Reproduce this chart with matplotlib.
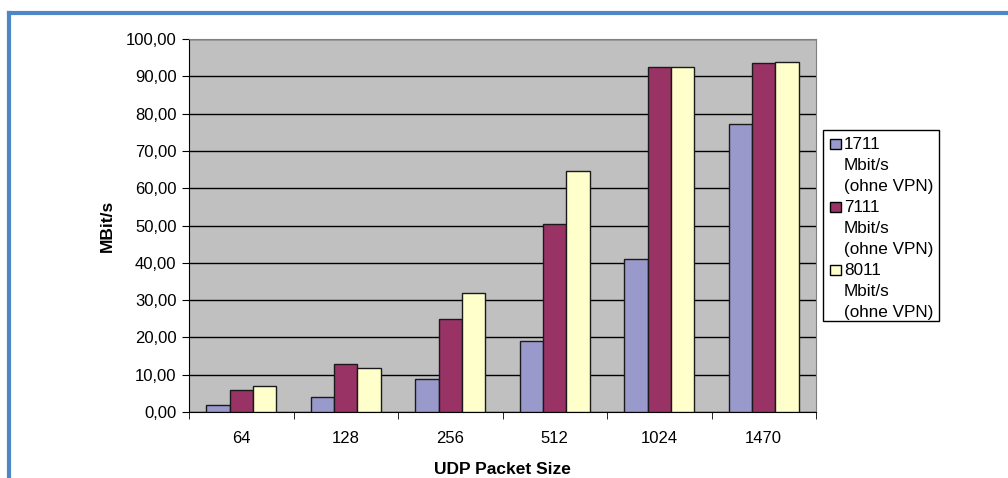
import numpy as np
import matplotlib
matplotlib.use('Agg')
import matplotlib.pyplot as plt
from matplotlib.patches import Rectangle
from matplotlib.lines import Line2D

plt.rcParams['font.family'] = ['Liberation Sans', 'DejaVu Sans']

sizes = ['64', '128', '256', '512', '1024', '1470']
series_names = ['1711', '7111', '8011']
series_sub = ['Mbit/s', '(ohne VPN)']
v1711 = [1.9, 3.9, 8.9, 19.0, 41.0, 77.1]
v7111 = [5.9, 13.0, 25.0, 50.3, 92.6, 93.6]
v8011 = [6.9, 11.9, 31.9, 64.6, 92.6, 93.7]
colors = ['#9999cc', '#993366', '#ffffcc']

W, H = 1008, 478
fig = plt.figure(figsize=(W / 100, H / 100), dpi=100)


def fx(px):
    return px / W


def fy(py):
    return 1 - py / H


# blue outer frame (top and left only)
fig.add_artist(Line2D([fx(8.5), 1.0], [fy(12.5)] * 2, color='#4f86c6', lw=3,
                      transform=fig.transFigure))
fig.add_artist(Line2D([fx(8.5)] * 2, [0, fy(12.5)], color='#4f86c6', lw=3,
                      transform=fig.transFigure))

ax = fig.add_axes([fx(189), fy(412), fx(816 - 189), (412 - 39) / H])
ax.set_facecolor('#c0c0c0')

x = np.arange(len(sizes))
w = 0.222
for i, vals in enumerate([v1711, v7111, v8011]):
    ax.bar(x + (i - 1) * w, vals, w, color=colors[i], edgecolor='#1a1a1a',
           linewidth=1.0, zorder=3)

ax.set_xlim(-0.5, len(sizes) - 0.5)
ax.set_ylim(0, 100)
ax.set_yticks(np.arange(0, 101, 10))
ax.set_yticklabels(['%d,00' % v for v in range(0, 101, 10)])
ax.yaxis.grid(True, color='black', lw=1.0, zorder=1)
ax.set_axisbelow(True)

ax.set_xticks(x)
ax.set_xticklabels(sizes)
ax.set_xticks(np.arange(-0.5, len(sizes)), minor=True)
ax.tick_params(axis='x', which='major', length=0, labelsize=12, pad=14)
ax.tick_params(axis='x', which='minor', length=5, color='black', direction='out')
ax.tick_params(axis='y', length=5, labelsize=12, color='black', pad=4)

for s in ['top', 'right']:
    ax.spines[s].set_color('#808080')
ax.spines['left'].set_color('black')
ax.spines['bottom'].set_color('black')

ax.set_xlabel('UDP Packet Size', fontsize=12.5, fontweight='bold', labelpad=11)
ax.set_ylabel('MBit/s', fontsize=12.5, fontweight='bold', labelpad=8)

# legend drawn by hand (Excel style: marker next to first line)
fig.add_artist(Rectangle((fx(823), fy(321)), fx(939 - 823), (321 - 130) / H,
                         facecolor='white', edgecolor='black', lw=1.0,
                         transform=fig.transFigure))
pitch = 20.9
for i, name in enumerate(series_names):
    base = 149.3 + i * 3 * pitch
    fig.add_artist(Rectangle((fx(830), fy(base)), fx(11), 10 / H,
                             facecolor=colors[i], edgecolor='black', lw=1.0,
                             transform=fig.transFigure))
    for k, line in enumerate([name] + series_sub):
        fig.text(fx(844), fy(base + k * pitch), line, fontsize=12.3,
                 ha='left', va='baseline')

fig.savefig('out.png', dpi=100)
